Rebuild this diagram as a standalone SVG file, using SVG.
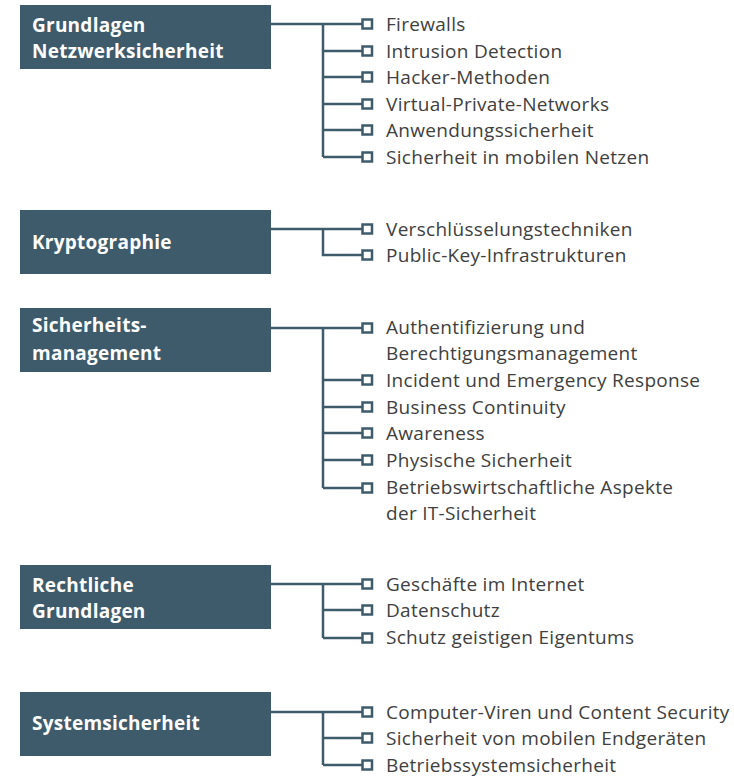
<svg xmlns="http://www.w3.org/2000/svg" width="734" height="777" viewBox="0 0 734 777">
<style>
.box{fill:#3e5b6b}
.bt{font-family:"Open Sans",sans-serif;font-weight:bold;font-size:19px;fill:#fff;letter-spacing:0.25px}
.it{font-family:"Open Sans",sans-serif;font-size:19px;fill:#404040;letter-spacing:0.3px}
.ln{stroke:#3e5b6b;stroke-width:2.5;fill:none}
.sq{stroke:#3e5b6b;stroke-width:2.5;fill:#fff}
</style>
<rect width="734" height="777" fill="#fff"/>
<g id="connectors">
<path class="ln" d="M271,24H362M323,24V157M323,51H362M323,77H362M323,104H362M323,130H362M323,157H362"/>
<path class="ln" d="M271,229H362M323,229V255H362"/>
<path class="ln" d="M271,328H362M323,328V488M323,380H362M323,407H362M323,433H362M323,460H362M323,488H362"/>
<path class="ln" d="M271,584H362M323,584V638M323,610H362M323,638H362"/>
<path class="ln" d="M271,712H362M323,712V765M323,738H362M323,765H362"/>
</g>
<g id="n1">
<rect class="box" x="20" y="5" width="251" height="64"/>
<text class="bt" x="32" y="32">Grundlagen</text>
<text class="bt" x="32" y="58">Netzwerksicherheit</text>
</g>
<g id="n1items">
<rect class="sq" x="362.5" y="19.5" width="9.5" height="9"/><text class="it" x="386" y="31">Firewalls</text>
<rect class="sq" x="362.5" y="46.5" width="9.5" height="9"/><text class="it" x="386" y="58">Intrusion Detection</text>
<rect class="sq" x="362.5" y="72.5" width="9.5" height="9"/><text class="it" x="386" y="84">Hacker-Methoden</text>
<rect class="sq" x="362.5" y="99.5" width="9.5" height="9"/><text class="it" x="386" y="111">Virtual-Private-Networks</text>
<rect class="sq" x="362.5" y="125.5" width="9.5" height="9"/><text class="it" x="386" y="137">Anwendungssicherheit</text>
<rect class="sq" x="362.5" y="152.5" width="9.5" height="9"/><text class="it" x="386" y="164">Sicherheit in mobilen Netzen</text>
</g>
<g id="n2">
<rect class="box" x="20" y="210" width="251" height="64"/>
<text class="bt" x="32" y="249">Kryptographie</text>
</g>
<g id="n2items">
<rect class="sq" x="362.5" y="224.5" width="9.5" height="9"/><text class="it" x="386" y="236">Verschlüsselungstechniken</text>
<rect class="sq" x="362.5" y="250.5" width="9.5" height="9"/><text class="it" x="386" y="262">Public-Key-Infrastrukturen</text>
</g>
<g id="n3">
<rect class="box" x="20" y="308" width="251" height="64"/>
<text class="bt" x="32" y="332">Sicherheits-</text>
<text class="bt" x="32" y="360">management</text>
</g>
<g id="n3items">
<rect class="sq" x="362.5" y="323.5" width="9.5" height="9"/><text class="it" x="386" y="334">Authentifizierung und</text>
<text class="it" x="386" y="360">Berechtigungsmanagement</text>
<rect class="sq" x="362.5" y="375.5" width="9.5" height="9"/><text class="it" x="386" y="387">Incident und Emergency Response</text>
<rect class="sq" x="362.5" y="402.5" width="9.5" height="9"/><text class="it" x="386" y="414">Business Continuity</text>
<rect class="sq" x="362.5" y="428.5" width="9.5" height="9"/><text class="it" x="386" y="440">Awareness</text>
<rect class="sq" x="362.5" y="455.5" width="9.5" height="9"/><text class="it" x="386" y="467">Physische Sicherheit</text>
<rect class="sq" x="362.5" y="483.5" width="9.5" height="9"/><text class="it" x="386" y="494">Betriebswirtschaftliche Aspekte</text>
<text class="it" x="386" y="520">der IT-Sicherheit</text>
</g>
<g id="n4">
<rect class="box" x="20" y="565" width="251" height="64"/>
<text class="bt" x="32" y="592">Rechtliche</text>
<text class="bt" x="32" y="618">Grundlagen</text>
</g>
<g id="n4items">
<rect class="sq" x="362.5" y="579.5" width="9.5" height="9"/><text class="it" x="386" y="591">Geschäfte im Internet</text>
<rect class="sq" x="362.5" y="605.5" width="9.5" height="9"/><text class="it" x="386" y="617">Datenschutz</text>
<rect class="sq" x="362.5" y="633.5" width="9.5" height="9"/><text class="it" x="386" y="644">Schutz geistigen Eigentums</text>
</g>
<g id="n5">
<rect class="box" x="20" y="692" width="251" height="64"/>
<text class="bt" x="32" y="730">Systemsicherheit</text>
</g>
<g id="n5items">
<rect class="sq" x="362.5" y="707.5" width="9.5" height="9"/><text class="it" x="386" y="719">Computer-Viren und Content Security</text>
<rect class="sq" x="362.5" y="733.5" width="9.5" height="9"/><text class="it" x="386" y="745">Sicherheit von mobilen Endgeräten</text>
<rect class="sq" x="362.5" y="760.5" width="9.5" height="9"/><text class="it" x="386" y="772">Betriebssystemsicherheit</text>
</g>
</svg>
